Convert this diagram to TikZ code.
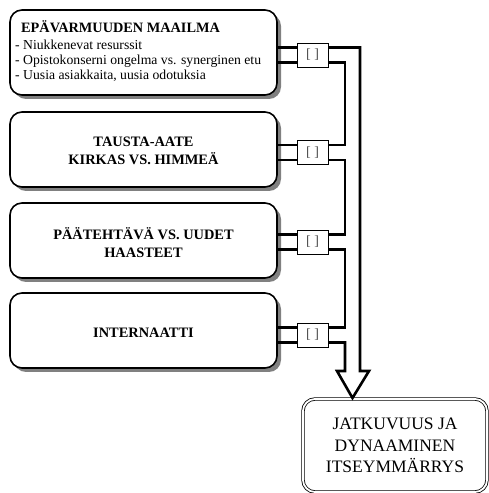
\documentclass[tikz,border=0pt]{standalone}
\usepackage{fontspec}
\setmainfont{Liberation Serif}
\usetikzlibrary{shadows}
\begin{document}
\begin{tikzpicture}[x=1pt,y=1pt,
  card/.style={draw, line width=1.6pt, rounded corners=12pt, fill=white,
    minimum width=267pt, minimum height=75pt, inner sep=0pt,
    drop shadow={shadow xshift=4pt, shadow yshift=-4pt, fill=black!50, opacity=1}},
  heading/.style={font=\fontsize{14.4}{18.5}\selectfont\bfseries, align=center},
  bullet/.style={anchor=base west, inner sep=0pt, font=\fontsize{13.7}{15}\selectfont},
  link/.style={draw, line width=0.9pt, fill=white, minimum width=31pt,
    minimum height=24pt, inner sep=0pt, font=\fontsize{14}{14}\selectfont, text=black!70},
  pipe/.style={line width=2.6pt},
  goal/.style={draw, double, double distance=1.8pt, line width=0.8pt, rounded corners=12pt,
    fill=white, minimum width=184pt, minimum height=93pt, align=center,
    font=\fontsize{17.5}{21.5}\selectfont}
]
\useasboundingbox (0,0) rectangle (488,493);

% left-hand cards
\node[card, minimum height=85pt] (b1) at (143.5,440.5) {};
\node[bullet, font=\fontsize{14.3}{15}\selectfont\bfseries] (b1h) at (21,460) {EPÄVARMUUDEN MAAILMA};
\node[bullet] (b1a) at (15,443) {- Niukkenevat resurssit};
\node[bullet] (b1b) at (15,428) {- Opistokonserni ongelma vs. synerginen etu};
\node[bullet] (b1c) at (15,413) {- Uusia asiakkaita, uusia odotuksia};

\node[card] (b2) at (143.5,343.5) {};
\node[heading] (b2t) at ([yshift=-1.5pt]b2.center) {TAUSTA-AATE\\KIRKAS VS. HIMMEÄ};

\node[card] (b3) at (143.5,252.5) {};
\node[heading] (b3t) at ([yshift=-2pt]b3.center) {PÄÄTEHTÄVÄ VS. UUDET\\HAASTEET};

\node[card] (b4) at (143.5,162.5) {};
\node[heading] (b4t) at ([yshift=-2.5pt]b4.center) {INTERNAATTI};

% connector boxes
\node[link] (s1) at (312.5,438) {[ ]};
\node[link] (s2) at (312.5,340.5) {[ ]};
\node[link] (s3) at (312.5,251) {[ ]};
\node[link] (s4) at (312.5,158) {[ ]};

% target
\node[goal] (f) at (395,47.5) {JATKUVUUS JA\\DYNAAMINEN\\ITSEYMMÄRRYS};

% pipe attachment points
\foreach \i in {1,2,3,4}{
  \coordinate (wu\i) at ([yshift=7.5pt]s\i.west);
  \coordinate (wd\i) at ([yshift=-7.5pt]s\i.west);
  \coordinate (eu\i) at ([yshift=7.5pt]s\i.east);
  \coordinate (ed\i) at ([yshift=-7.5pt]s\i.east);
  \draw[pipe] (wu\i) -- (b\i.east |- wu\i);
  \draw[pipe] (wd\i) -- (b\i.east |- wd\i);
}

% collecting channel and arrow head
\coordinate (cl) at (345,0);
\coordinate (cr) at (360,0);
\coordinate (hl) at (337,122);
\coordinate (hr) at (369,122);
\coordinate (tip) at (352.5,95);

\draw[pipe] (ed1) -| (cl |- eu2) -- (eu2);
\draw[pipe] (ed2) -| (cl |- eu3) -- (eu3);
\draw[pipe] (ed3) -| (cl |- eu4) -- (eu4);
\draw[pipe, line join=miter] (ed4) -| (cl |- hl) -- (hl) -- (tip) -- (hr) -- (cr |- hr) |- (eu1);
\end{tikzpicture}
\end{document}
